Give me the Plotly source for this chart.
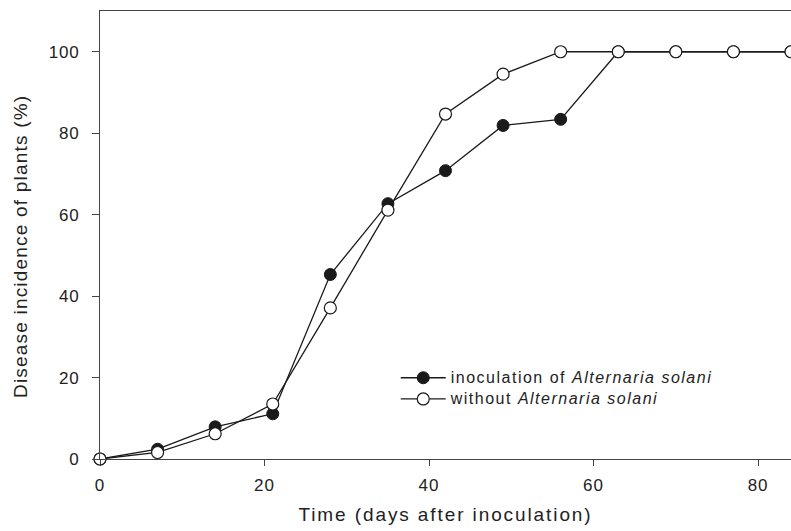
import plotly.graph_objects as go

# Sampling days after inoculation
days = [0, 7, 14, 21, 28, 35, 42, 49, 56, 63, 70, 77, 84]

# Disease incidence (%) per treatment
inoculated = [0, 2.4, 7.9, 11.1, 45.3, 62.7, 70.8, 81.9, 83.4, 100, 100, 100, 100]
without = [0, 1.6, 6.2, 13.5, 37.1, 61.1, 84.7, 94.5, 100, 100, 100, 100, 100]

x_ticks = [0, 20, 40, 60, 80]
y_ticks = [0, 20, 40, 60, 80, 100]

series_names = [
    "inoculation of <i>Alternaria solani</i>",
    "without <i>Alternaria solani</i>",
]
x_title = "Time (days after inoculation)"
y_title = "Disease incidence of plants (%)"

FONT = "Arial, 'Liberation Sans', sans-serif"
INK = "#1a1a1a"


def spaced(text, spacing, size=None):
    """Wrap text in a span with tracked letters (and optional size)."""
    style = f"letter-spacing:{spacing}px"
    if size:
        style += f";font-size:{size}px"
    return f'<span style="{style}">{text}</span>'


fig = go.Figure()

fig.add_trace(go.Scatter(
    x=days, y=inoculated, mode="lines+markers",
    name=spaced(series_names[0], 1.5, 16),
    line=dict(color=INK, width=1.3),
    marker=dict(symbol="circle", size=12, color=INK, line=dict(color=INK, width=1)),
    cliponaxis=False,
))
fig.add_trace(go.Scatter(
    x=days, y=without, mode="lines+markers",
    name=spaced(series_names[1], 1.5, 16),
    line=dict(color=INK, width=1.3),
    marker=dict(symbol="circle", size=12, color="white", line=dict(color=INK, width=1.2)),
    cliponaxis=False,
))

# Vertical axis title, placed as a rotated annotation left of the tick labels
fig.add_annotation(
    text=spaced(y_title, 1.2), textangle=-90,
    xref="paper", yref="paper", x=-0.116, y=0.475,
    xanchor="center", yanchor="middle", showarrow=False,
    font=dict(family=FONT, size=19, color="#222"),
)

fig.update_layout(
    width=791, height=531,
    margin=dict(l=100, r=0, t=11, b=72),
    paper_bgcolor="white", plot_bgcolor="white",
    font=dict(family=FONT, size=17, color="#222"),
    showlegend=True,
    legend=dict(
        x=0.428, y=0.157, xanchor="left", yanchor="middle",
        bgcolor="rgba(0,0,0,0)", borderwidth=0,
        font=dict(family=FONT, size=14, color="#222"),
        itemwidth=45, tracegroupgap=0,
    ),
    xaxis=dict(
        range=[0, 84], tickvals=x_ticks,
        ticktext=[spaced(str(v), 1) for v in x_ticks],
        ticks="outside", ticklen=6, tickwidth=1, tickcolor="#444",
        showline=True, linecolor="#444", linewidth=1.2,
        mirror=True, showgrid=False, zeroline=False,
        tickfont=dict(size=17), ticklabelstandoff=4,
        title=dict(text=spaced(x_title, 1.9), font=dict(size=19), standoff=14),
    ),
    yaxis=dict(
        range=[0, 110], tickvals=y_ticks,
        ticktext=[spaced(str(v), 0.8) for v in y_ticks],
        ticks="outside", ticklen=7, tickwidth=1, tickcolor="#444",
        showline=True, linecolor="#444", linewidth=1.2,
        showgrid=False, zeroline=False,
        tickfont=dict(size=17), ticklabelstandoff=9,
    ),
)

fig.write_html("out.html")
